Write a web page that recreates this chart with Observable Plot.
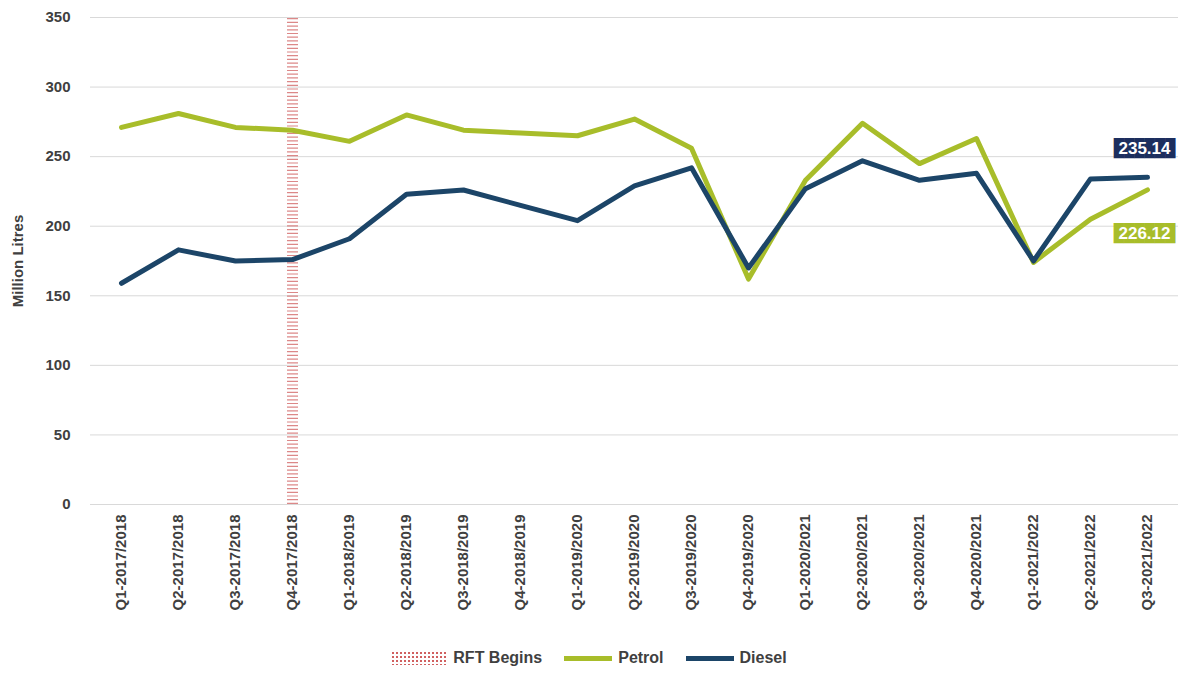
<!DOCTYPE html>
<html>
<head>
<meta charset="utf-8">
<script src="https://cdn.jsdelivr.net/npm/d3@7"></script>
<script src="https://cdn.jsdelivr.net/npm/@observablehq/plot@0.6"></script>
<style>
  body { margin: 0; background: #fff; font-family: "Liberation Sans", Arial, sans-serif; }
  #legend { display: flex; justify-content: center; gap: 22px; font-size: 16px; color: #404040; margin-top: 4px; font-weight: bold; }
  #legend span { display: flex; align-items: center; gap: 6px; }
  .sw { width: 48px; height: 5px; display: inline-block; }
</style>
</head>
<body>
<div id="chart"></div>
<div id="legend">
  <span><i class="sw" style="height:14px;width:56px;background-image:radial-gradient(#d06060 0.9px, transparent 1.1px);background-size:4px 4px;"></i>RFT Begins</span>
  <span><i class="sw" style="background:#a8bd2a"></i>Petrol</span>
  <span><i class="sw" style="background:#1c4568"></i>Diesel</span>
</div>
<script>
const quarters = ["Q1-2017/2018","Q2-2017/2018","Q3-2017/2018","Q4-2017/2018","Q1-2018/2019","Q2-2018/2019","Q3-2018/2019","Q4-2018/2019","Q1-2019/2020","Q2-2019/2020","Q3-2019/2020","Q4-2019/2020","Q1-2020/2021","Q2-2020/2021","Q3-2020/2021","Q4-2020/2021","Q1-2021/2022","Q2-2021/2022","Q3-2021/2022"];
const petrol = [271, 281, 271, 269, 261, 280, 269, 267, 265, 277, 256, 162, 233, 274, 245, 263, 174, 205, 226.12];
const diesel = [159, 183, 175, 176, 191, 223, 226, 215, 204, 229, 242, 170, 227, 247, 233, 238, 175, 234, 235.14];
const rftStart = "Q4-2017/2018";

const pRows = quarters.map((q, i) => ({q, v: petrol[i]}));
const dRows = quarters.map((q, i) => ({q, v: diesel[i]}));
const last = quarters.length - 1;

// end-value label: a block of full-block glyphs as the box, then the white number on top
function endLabel(v, yPos, color) {
  const row = [{q: quarters[last], v}];
  return [
    Plot.text(row, { x: "q", y: () => yPos, dx: -3, text: () => "\u2588\u2588\u2588\u2588\u2588\u2588", fill: color, fontFamily: "DejaVu Sans Mono", fontSize: 17 }),
    Plot.text(row, { x: "q", y: () => yPos, dx: -3, text: d => d.v.toFixed(2), fill: "white", fontSize: 17, fontWeight: "bold" })
  ];
}

const plot = Plot.plot({
  width: 1178, height: 645,
  marginLeft: 90, marginRight: 0, marginTop: 17, marginBottom: 141,
  style: { fontFamily: "Liberation Sans, Arial, sans-serif", fontSize: "15px", color: "#404040", fontWeight: "bold" },
  x: { type: "point", domain: quarters, padding: 0.5, label: null, tickRotate: -90, tickSize: 0, tickPadding: 10 },
  y: { domain: [0, 350], ticks: d3.range(0, 351, 50), label: "Million Litres", labelAnchor: "center", labelArrow: "none", tickSize: 0, tickPadding: 20, labelOffset: 78 },
  marks: [
    Plot.gridY(d3.range(0, 351, 50), { stroke: "#d9d9d9", strokeOpacity: 1 }),
    Plot.ruleX([rftStart], { y1: 0, y2: 350, stroke: "#d06060", strokeWidth: 11, strokeDasharray: "1.2,2.5", strokeOpacity: 0.75 }),
    Plot.lineY(pRows, { x: "q", y: "v", stroke: "#a8bd2a", strokeWidth: 5 }),
    Plot.lineY(dRows, { x: "q", y: "v", stroke: "#1c4568", strokeWidth: 5 }),
    ...endLabel(diesel[last], 256, "#1c2e5e"),
    ...endLabel(petrol[last], 195, "#a8bd2a")
  ]
});
document.querySelector("#chart").append(plot);
</script>
</body>
</html>
